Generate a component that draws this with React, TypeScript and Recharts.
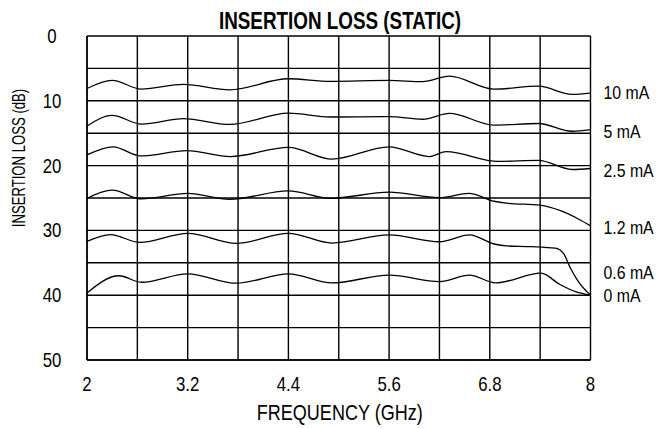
import React from "react";
import {
  LineChart,
  Line,
  XAxis,
  YAxis,
  CartesianGrid,
  ReferenceDot,
  Customized,
  Label,
} from "recharts";

const FONT = "'Liberation Sans', Arial, Helvetica, sans-serif";

const FREQ_GRID = [2, 2.6, 3.2, 3.8, 4.4, 5, 5.6, 6.2, 6.8, 7.4, 8];
const FREQ_LABELS = [2, 3.2, 4.4, 5.6, 6.8, 8];
const LOSS_GRID = [0, 5, 10, 15, 20, 25, 30, 35, 40, 45, 50];
const LOSS_LABELS = [0, 10, 20, 30, 40, 50];

const f10 = [2.0, 2.3, 2.65, 3.15, 3.7, 4.4, 4.9, 5.6, 6.0, 6.32, 6.85, 7.38, 7.78, 8.0];
const v10 = [8.1, 6.85, 8.2, 7.45, 8.3, 6.6, 7.0, 6.85, 7.05, 6.2, 8.2, 7.75, 9.0, 8.8];

const f5 = [2.0, 2.3, 2.65, 3.15, 3.7, 4.4, 4.9, 5.6, 6.0, 6.32, 6.85, 7.38, 7.78, 8.0];
const v5 = [13.9, 12.25, 13.6, 12.75, 13.65, 11.9, 12.5, 12.45, 12.85, 11.95, 13.75, 13.5, 14.7, 14.45];

const f25 = [2.0, 2.31, 2.64, 3.19, 3.71, 4.4, 4.92, 5.6, 6.08, 6.28, 6.9, 7.38, 7.78, 8.0];
const v25 = [18.35, 17.1, 18.5, 17.7, 18.6, 17.2, 19.0, 17.1, 18.6, 17.85, 19.35, 19.2, 20.6, 20.45];

const f12 = [2.0, 2.3, 2.65, 3.2, 3.7, 4.4, 4.9, 5.6, 6.2, 6.55, 6.85, 7.0, 7.4, 7.65, 7.85, 8.0];
const v12 = [25.05, 23.8, 25.15, 24.3, 25.2, 23.9, 25.05, 24.1, 24.95, 24.3, 25.5, 25.8, 26.1, 27.0, 28.2, 29.3];

const f06 = [2.0, 2.28, 2.63, 3.2, 3.78, 4.4, 4.92, 5.6, 6.2, 6.56, 6.85, 7.0, 7.3, 7.58, 7.68, 7.76, 7.86, 8.0];
const v06 = [31.7, 30.65, 31.85, 30.45, 32.0, 30.45, 31.95, 30.7, 31.75, 30.7, 32.1, 32.4, 32.5, 32.75, 33.6, 35.8, 38.0, 40.0];

const f0 = [2.0, 2.38, 2.65, 3.2, 3.78, 4.4, 4.92, 5.6, 6.2, 6.56, 6.87, 7.41, 7.63, 7.83, 8.0];
const v0 = [39.65, 37.0, 38.0, 36.7, 38.15, 36.7, 38.1, 36.9, 37.9, 36.9, 38.1, 36.6, 38.3, 39.5, 40.0];

const SERIES_NAMES = ["10 mA", "5 mA", "2.5 mA", "1.2 mA", "0.6 mA", "0 mA"];
const LABEL_LEVELS = [8.8, 14.8, 20.8, 29.6, 36.6, 40.1];

const zip = (fs: number[], vs: number[]) => fs.map((f, i) => ({ f, v: vs[i] }));

const SERIES = [
  zip(f10, v10),
  zip(f5, v5),
  zip(f25, v25),
  zip(f12, v12),
  zip(f06, v06),
  zip(f0, v0),
];

// condensed text: real text, horizontally compressed to mimic a narrow face
const NText = ({
  x,
  y,
  size,
  anchor = "middle",
  bold = false,
  sx = 0.84,
  rotate = false,
  children,
}: any) => (
  <text
    transform={`translate(${x},${y})${rotate ? " rotate(-90)" : ""} scale(${sx},1)`}
    textAnchor={anchor}
    dominantBaseline="central"
    fontFamily={FONT}
    fontWeight={bold ? "bold" : "normal"}
    fontSize={size}
    fill="#000"
  >
    {children}
  </text>
);

const XTick = (props: any) => {
  const { x, y, payload } = props;
  if (!FREQ_LABELS.includes(payload.value)) return null;
  return (
    <NText x={x} y={y + 16} size={20}>
      {String(payload.value)}
    </NText>
  );
};

const YTick = (props: any) => {
  const { y, payload } = props;
  if (!LOSS_LABELS.includes(payload.value)) return null;
  return (
    <NText x={52} y={y} size={20}>
      {String(payload.value)}
    </NText>
  );
};

const Title = () => (
  <NText x={340} y={21} size={23} bold sx={0.82}>
    INSERTION LOSS (STATIC)
  </NText>
);

export default function App() {
  return (
    <div style={{ position: "absolute", left: 0, top: 0, width: 656, height: 429 }}>
      <LineChart width={656} height={429} margin={{ top: 36, right: 65.5, bottom: 0, left: 0 }}>
        <CartesianGrid stroke="#000" strokeWidth={1.4} />
        <XAxis
          dataKey="f"
          type="number"
          domain={[2, 8]}
          ticks={FREQ_GRID}
          interval={0}
          height={69}
          axisLine={{ stroke: "#000", strokeWidth: 1.4 }}
          tickLine={false}
          tick={<XTick />}
          allowDuplicatedCategory={false}
        >
          <Label
            content={(p: any) => {
              const vb = p.viewBox;
              return (
                <NText x={vb.x + vb.width / 2 + 1} y={vb.y + 52} size={22} sx={0.82}>
                  FREQUENCY (GHz)
                </NText>
              );
            }}
          />
        </XAxis>
        <YAxis
          type="number"
          domain={[0, 50]}
          reversed
          ticks={LOSS_GRID}
          interval={0}
          width={87}
          axisLine={{ stroke: "#000", strokeWidth: 1.4 }}
          tickLine={false}
          tick={<YTick />}
        >
          <Label
            content={(p: any) => {
              const vb = p.viewBox;
              return (
                <NText x={19} y={vb.y + vb.height / 2 - 40} size={18} sx={0.73} rotate>
                  INSERTION LOSS (dB)
                </NText>
              );
            }}
          />
        </YAxis>
        {SERIES.map((d, i) => (
          <Line
            key={SERIES_NAMES[i]}
            data={d}
            dataKey="v"
            type="monotone"
            stroke="#000"
            strokeWidth={1.3}
            dot={false}
            activeDot={false}
            isAnimationActive={false}
          />
        ))}
        {SERIES_NAMES.map((name, i) => (
          <ReferenceDot
            key={"lbl" + name}
            x={8}
            y={LABEL_LEVELS[i]}
            ifOverflow="visible"
            shape={(p: any) => (
              <NText x={p.cx + 13} y={p.cy} size={18} anchor="start" sx={0.88}>
                {name}
              </NText>
            )}
          />
        ))}
        <Customized component={Title} />
      </LineChart>
    </div>
  );
}
